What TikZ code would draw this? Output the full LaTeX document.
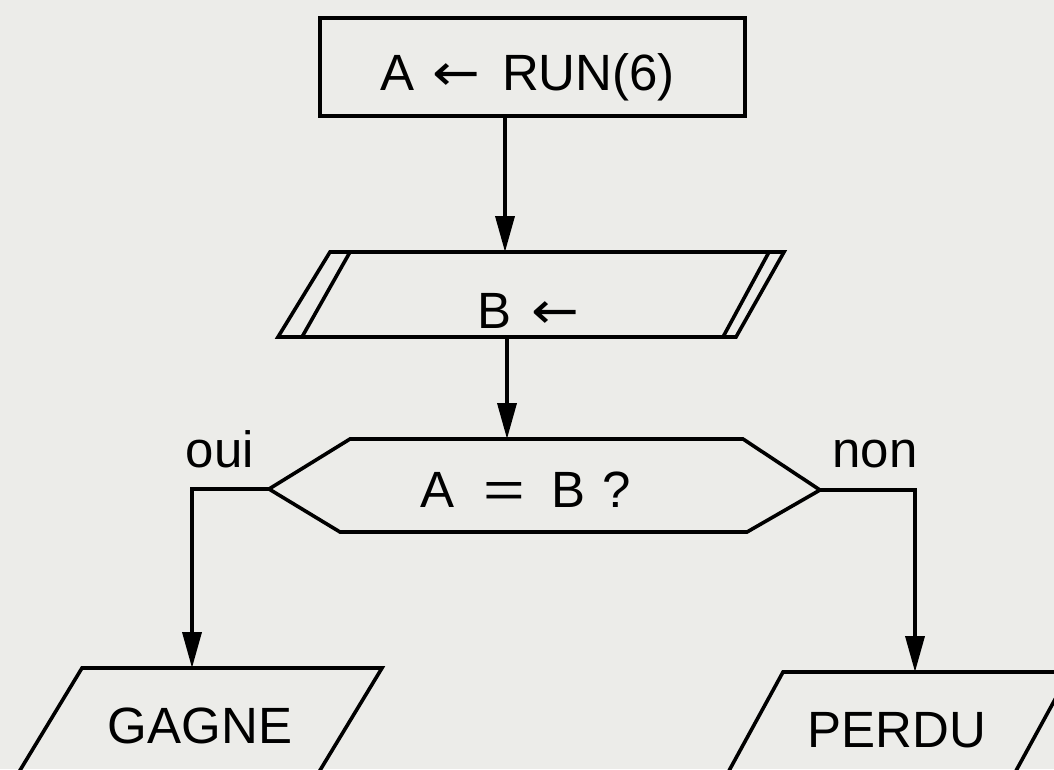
\documentclass[tikz,border=0pt]{standalone}
\usepackage{fontspec}
\setmainfont{Liberation Sans}
\newfontfamily\arrowfont{DejaVu Sans}
\usetikzlibrary{arrows.meta}
\definecolor{paper}{RGB}{236,236,233}
\newcommand{\assign}{{\arrowfont\scalebox{1.12}[1]{←}}}
\begin{document}
\begin{tikzpicture}[x=1pt,y=-1pt,
  every node/.style={font=\fontsize{51}{60}\selectfont, inner sep=0pt},
  outline/.style={line width=3.6pt, line join=miter},
  flow/.style={line width=3.6pt, -{Triangle[length=36pt,width=19pt]}},
  txt/.style={anchor=base},
  txtw/.style={anchor=base west}]
% page
\fill[paper] (0,0) rectangle (1054,769);
\useasboundingbox (0,0) rectangle (1054,769);
\clip (0,0) rectangle (1054,769);

% start box
\node[draw, outline, minimum width=425pt, minimum height=98pt] (init) at (532.5,67) {};
\node[txtw] (init-txt) at (380,90) {A\hspace{18pt}\assign\hspace{22pt}RUN(6)};

% input parallelogram with doubled sides
\coordinate (in-nw) at (330,252);
\coordinate (in-ne) at (784,252);
\coordinate (in-se) at (736,337);
\coordinate (in-sw) at (278,337);
\coordinate (in-n) at (505,252);
\coordinate (in-s) at (507,337);
\draw[outline] (in-nw) -- (in-ne) -- (in-se) -- (in-sw) -- cycle;
\draw[outline] (350,252) -- (302,337);
\draw[outline] (769,252) -- (723,337);
\node[txtw] (in-txt) at (477,328) {B\hspace{20pt}\assign};

% decision hexagon
\coordinate (dec-w) at (269,489);
\coordinate (dec-e) at (820,490);
\coordinate (dec-n) at (507,439);
\draw[outline] (dec-w) -- (350,439) -- (743,439) -- (dec-e) -- (747,532) -- (340,532) -- cycle;
\node[txtw] (dec-txt) at (420,507) {A\hspace{29pt}\scalebox{1.4}[1]{=}\hspace{27pt}B\hspace{17pt}?};
\node[txt] (yes) at (220,467) {oui};
\node[txt] (no) at (875,467) {non};

% output parallelograms
\coordinate (win-n) at (192,668);
\draw[outline] (2,800) -- (82,668) -- (382,668) -- (302,800);
\node[txt] (win) at (200,743) {GAGNE};
\coordinate (lose-n) at (915,672);
\draw[outline] (713,800) -- (783,672) -- (1070,672) -- (1000,800);
\node[txt] (lose) at (897,747) {PERDU};

% connectors
\draw[flow] ([xshift=-27.5pt]init.south) -- (in-n);
\draw[flow] (in-s) -- (dec-n);
\draw[flow] (dec-w) -| (win-n);
\draw[flow] (dec-e) -| (lose-n);
\end{tikzpicture}
\end{document}
